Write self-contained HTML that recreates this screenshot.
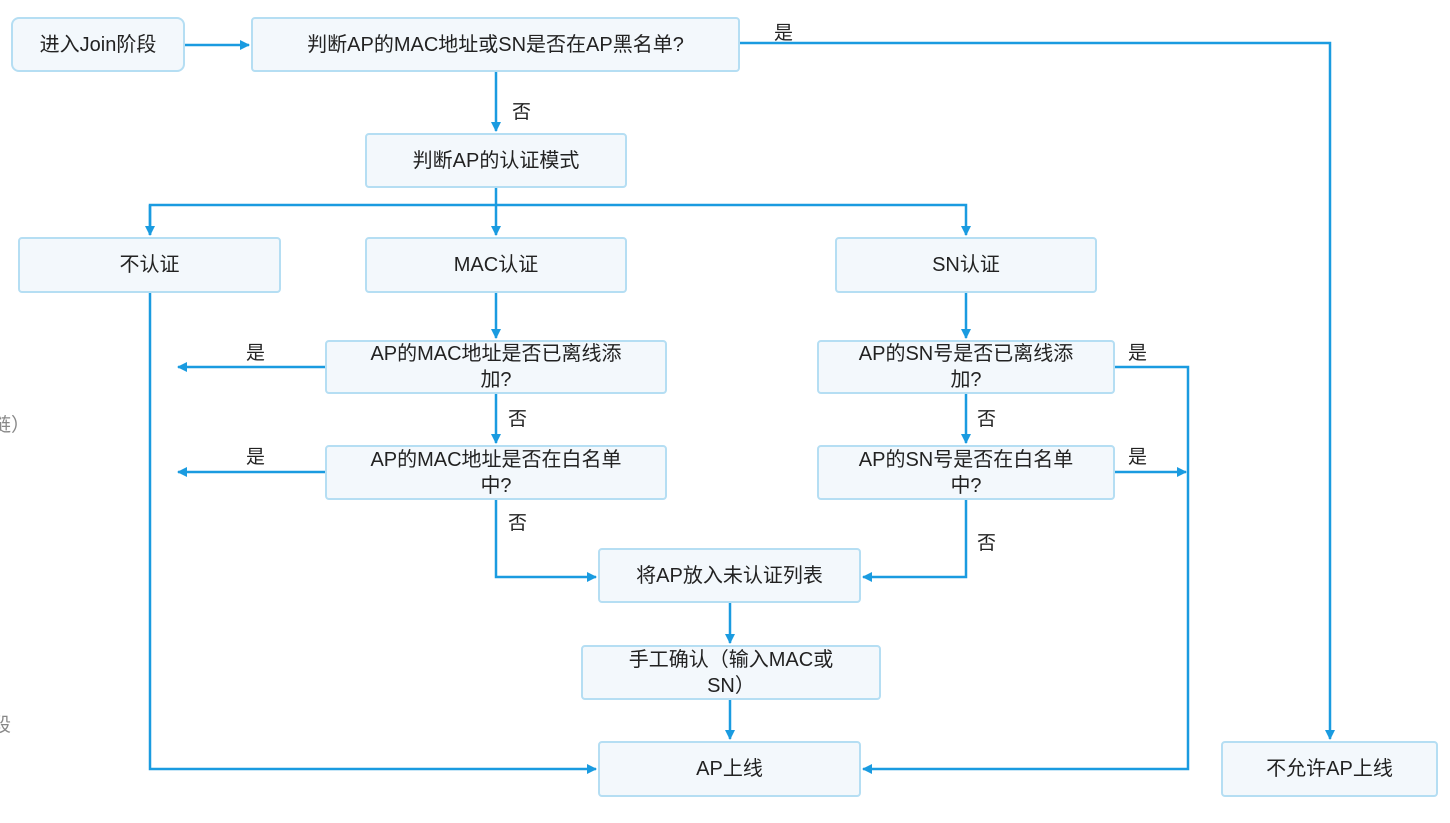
<!DOCTYPE html>
<html><head><meta charset="utf-8"><style>
body{margin:0;width:1450px;height:823px;background:#fff;position:relative;overflow:hidden;font-family:"Liberation Sans","Noto Sans CJK SC",sans-serif;color:#222}
.b{position:absolute;box-sizing:border-box;background:#f3f8fc;border:2px solid #b5def3;border-radius:4px;display:flex;align-items:center;justify-content:center;text-align:center;font-size:20px;line-height:26px}
.l{position:absolute;font-size:19px;color:#222}
svg{position:absolute;left:0;top:0}
</style></head><body>
<svg width="1450" height="823">
<defs><marker id="a" markerWidth="10" markerHeight="10" refX="9" refY="5" orient="auto" markerUnits="userSpaceOnUse"><path d="M0,0L10,5L0,10z" fill="#1a9be0"/></marker></defs>
<g stroke="#1a9be0" stroke-width="2.5" fill="none">
<path d="M185,45H249" marker-end="url(#a)"/>
<path d="M740,43H1330V739" marker-end="url(#a)"/>
<path d="M496,72V131" marker-end="url(#a)"/>
<path d="M496,188V205"/>
<path d="M150,235V205H966V235" marker-end="url(#a)"/>
<path d="M150,205V235" marker-end="url(#a)"/>
<path d="M496,205V235" marker-end="url(#a)"/>
<path d="M150,293V769H596" marker-end="url(#a)"/>
<path d="M496,293V338" marker-end="url(#a)"/>
<path d="M496,394V443" marker-end="url(#a)"/>
<path d="M496,500V577H596" marker-end="url(#a)"/>
<path d="M325,367H178" marker-end="url(#a)"/>
<path d="M325,472H178" marker-end="url(#a)"/>
<path d="M966,293V338" marker-end="url(#a)"/>
<path d="M966,394V443" marker-end="url(#a)"/>
<path d="M966,500V577H863" marker-end="url(#a)"/>
<path d="M1115,367H1188V769H863" marker-end="url(#a)"/>
<path d="M1115,472H1186" marker-end="url(#a)"/>
<path d="M730,603V643" marker-end="url(#a)"/>
<path d="M730,700V739" marker-end="url(#a)"/>
</g></svg>
<div class="b" style="left:11px;top:17px;width:174px;height:55px;border-radius:8px">进入Join阶段</div>
<div class="b" style="left:251px;top:17px;width:489px;height:55px">判断AP的MAC地址或SN是否在AP黑名单?</div>
<div class="b" style="left:365px;top:133px;width:262px;height:55px">判断AP的认证模式</div>
<div class="b" style="left:18px;top:237px;width:263px;height:56px">不认证</div>
<div class="b" style="left:365px;top:237px;width:262px;height:56px">MAC认证</div>
<div class="b" style="left:835px;top:237px;width:262px;height:56px">SN认证</div>
<div class="b" style="left:325px;top:340px;width:342px;height:54px">AP的MAC地址是否已离线添<br>加?</div>
<div class="b" style="left:325px;top:445px;width:342px;height:55px">AP的MAC地址是否在白名单<br>中?</div>
<div class="b" style="left:817px;top:340px;width:298px;height:54px">AP的SN号是否已离线添<br>加?</div>
<div class="b" style="left:817px;top:445px;width:298px;height:55px">AP的SN号是否在白名单<br>中?</div>
<div class="b" style="left:598px;top:548px;width:263px;height:55px">将AP放入未认证列表</div>
<div class="b" style="left:581px;top:645px;width:300px;height:55px">手工确认（输入MAC或<br>SN）</div>
<div class="b" style="left:598px;top:741px;width:263px;height:56px">AP上线</div>
<div class="b" style="left:1221px;top:741px;width:217px;height:56px">不允许AP上线</div>
<div class="l" style="left:774px;top:18px">是</div>
<div class="l" style="left:512px;top:97px">否</div>
<div class="l" style="left:246px;top:338px">是</div>
<div class="l" style="left:246px;top:442px">是</div>
<div class="l" style="left:508px;top:404px">否</div>
<div class="l" style="left:508px;top:508px">否</div>
<div class="l" style="left:977px;top:404px">否</div>
<div class="l" style="left:977px;top:528px">否</div>
<div class="l" style="left:1128px;top:338px">是</div>
<div class="l" style="left:1128px;top:442px">是</div>
<div class="l" style="left:-8px;top:410px;color:#888">链）</div>
<div class="l" style="left:-8px;top:710px;color:#888">段</div>
</body></html>
